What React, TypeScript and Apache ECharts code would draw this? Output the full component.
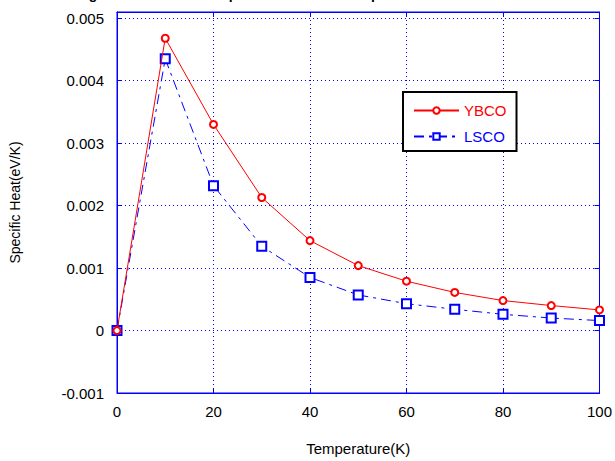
import React, { useEffect, useRef } from "react";
import * as echarts from "echarts";

const temperatures = [0, 10, 20, 30, 40, 50, 60, 70, 80, 90, 100];
const ybco = [0, 0.00468, 0.0033, 0.00213, 0.00144, 0.00104, 0.00079, 0.00061, 0.00048, 0.0004, 0.00033];
const lsco = [0, 0.00435, 0.00232, 0.00135, 0.00085, 0.00057, 0.00043, 0.00034, 0.00026, 0.0002, 0.00016];
const titleText = "Figure 1: Variation of Specific Heat with Temperature of YBCO and LSCO";

const FONT = "Liberation Sans, Arial, sans-serif";
const BLUE = "#0000ff";

export default function App() {
  const ref = useRef<HTMLDivElement>(null);
  useEffect(() => {
    if (!ref.current) return;
    const chart = echarts.init(ref.current, null, { renderer: "svg" });
    const fmtY = (v: number) => parseFloat(v.toFixed(4)).toString();
    const tickCommon = { show: true, inside: true, length: 5, lineStyle: { color: BLUE, width: 1 } };
    chart.setOption({
      animation: false,
      backgroundColor: "#ffffff",
      textStyle: { fontFamily: FONT },
      grid: { left: 117, right: 15, top: 12, bottom: 65, show: true, borderColor: BLUE, borderWidth: 1, containLabel: false },
      graphic: [
        {
          type: "text",
          x: 318,
          y: -13,
          style: { text: titleText, align: "center", verticalAlign: "top", font: `bold 14px ${FONT}`, fill: "#000" },
        },
      ],
      legend: {
        left: 403,
        top: 92,
        orient: "vertical",
        backgroundColor: "#fff",
        borderColor: "#000",
        borderWidth: 2,
        borderRadius: 0,
        padding: [11, 10, 7, 10],
        itemWidth: 45,
        itemHeight: 8,
        itemGap: 11,
        textStyle: { fontSize: 15, fontFamily: FONT },
        data: [
          { name: "YBCO", textStyle: { color: "#ff0000" } },
          { name: "LSCO", textStyle: { color: BLUE } },
        ],
      },
      xAxis: [
        {
          type: "value",
          min: 0,
          max: 100,
          interval: 20,
          name: "Temperature(K)",
          nameLocation: "middle",
          nameGap: 48,
          nameTextStyle: { color: "#000", fontSize: 15, fontFamily: FONT },
          axisLine: { show: true, onZero: false, lineStyle: { color: BLUE } },
          axisTick: tickCommon,
          axisLabel: { color: "#000", fontSize: 15, margin: 11, fontFamily: FONT },
          splitLine: { show: true, lineStyle: { color: BLUE, type: [1, 3], width: 1 } },
        },
        {
          type: "value",
          position: "top",
          min: 0,
          max: 100,
          interval: 20,
          axisLine: { show: true, onZero: false, lineStyle: { color: BLUE } },
          axisTick: tickCommon,
          axisLabel: { show: false },
          splitLine: { show: false },
        },
      ],
      yAxis: [
        {
          type: "value",
          min: -0.001,
          max: 0.0051,
          interval: 0.001,
          name: "Specific Heat(eV/K)",
          nameLocation: "middle",
          nameGap: 95,
          nameTextStyle: { color: "#000", fontSize: 14, fontFamily: FONT },
          axisLine: { show: true, onZero: false, lineStyle: { color: BLUE } },
          axisTick: tickCommon,
          axisLabel: { color: "#000", fontSize: 15, margin: 13, formatter: fmtY, showMaxLabel: false, fontFamily: FONT },
          splitLine: { show: true, lineStyle: { color: BLUE, type: [1, 3], width: 1 } },
        },
        {
          type: "value",
          position: "right",
          min: -0.001,
          max: 0.0051,
          interval: 0.001,
          axisLine: { show: true, onZero: false, lineStyle: { color: BLUE } },
          axisTick: tickCommon,
          axisLabel: { show: false },
          splitLine: { show: false },
        },
      ],
      series: [
        {
          name: "YBCO",
          type: "line",
          data: temperatures.map((t, i) => [t, ybco[i]]),
          symbol: "emptyCircle",
          symbolSize: 7,
          color: "#ff0000",
          lineStyle: { color: "#ff0000", width: 1 },
          itemStyle: { color: "#ff0000", borderColor: "#ff0000", borderWidth: 1 },
          z: 3,
        },
        {
          name: "LSCO",
          type: "line",
          data: temperatures.map((t, i) => [t, lsco[i]]),
          symbol: "emptyRect",
          symbolSize: 9,
          color: BLUE,
          lineStyle: { color: BLUE, width: 1, type: [10, 5, 3, 5] },
          itemStyle: { color: BLUE, borderColor: BLUE, borderWidth: 1 },
          z: 2,
        },
      ],
    });
    return () => chart.dispose();
  }, []);
  return <div ref={ref} style={{ width: 615, height: 461, position: "absolute", left: 0, top: 0 }} />;
}
